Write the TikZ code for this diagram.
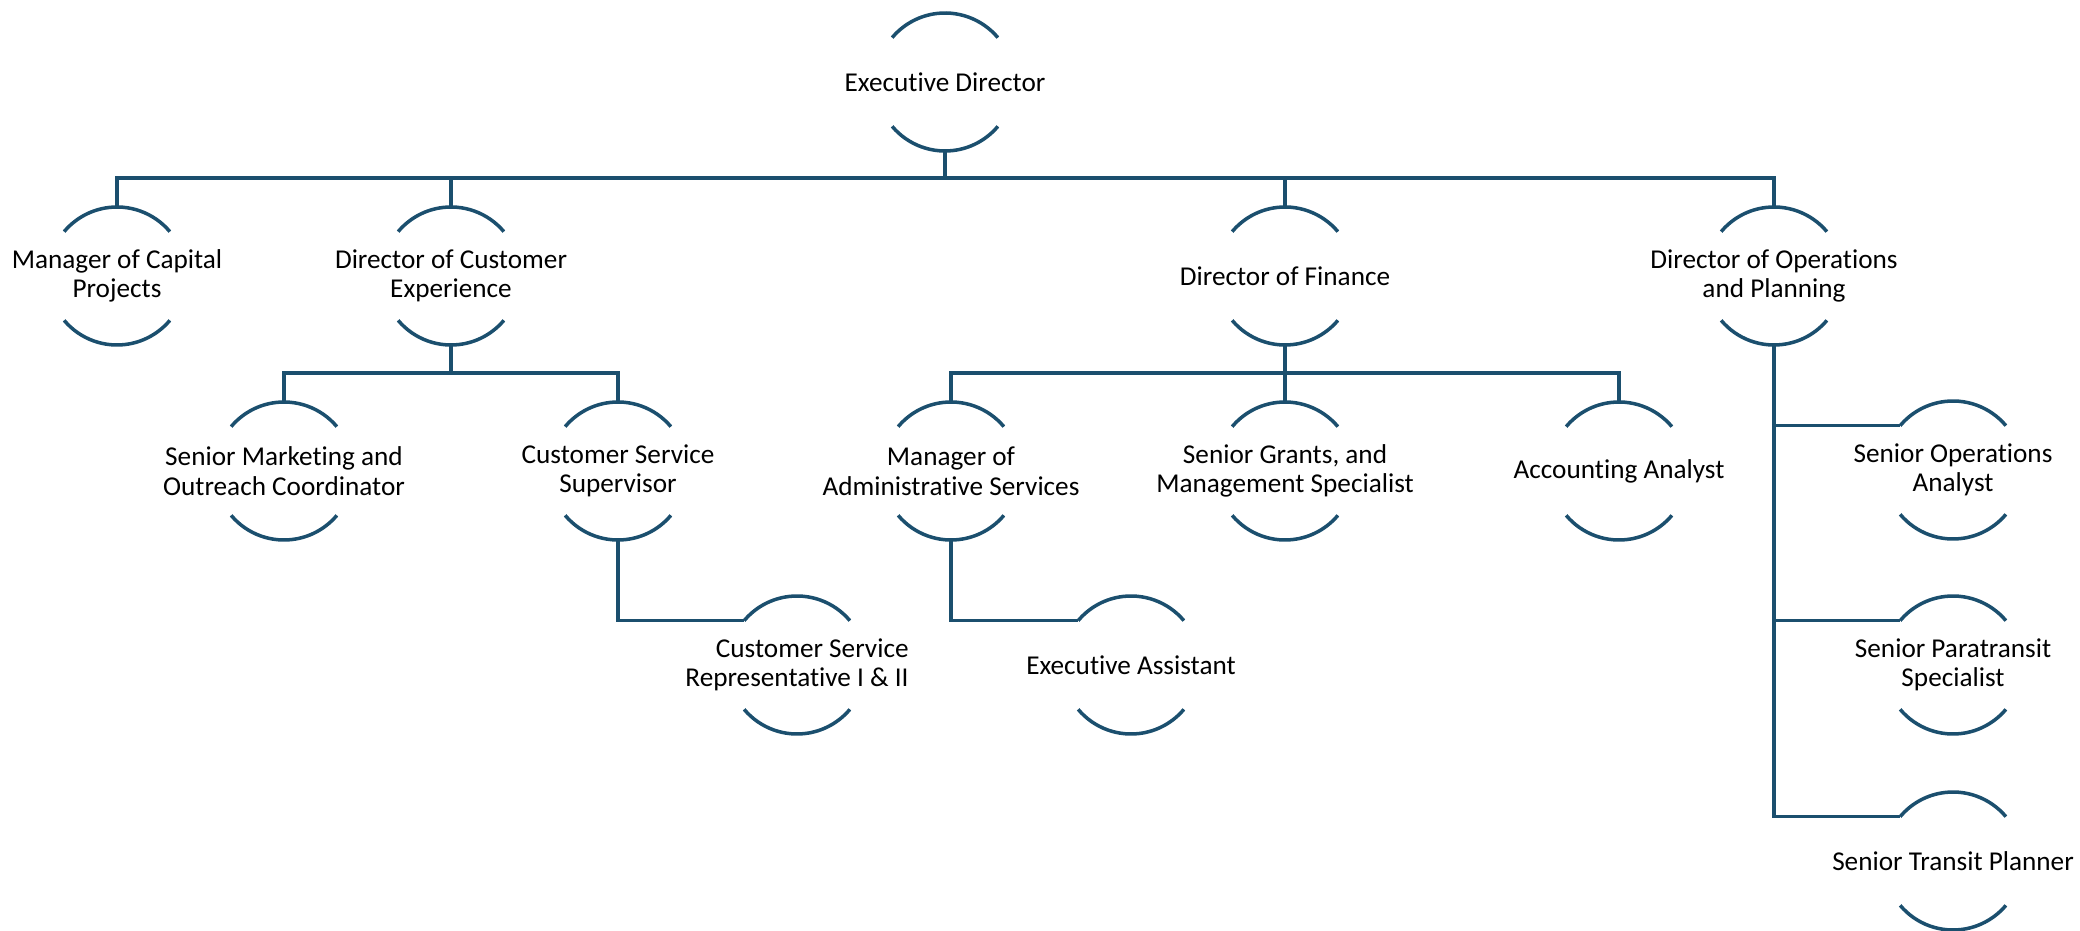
\documentclass[tikz,border=0pt]{standalone}
\usepackage{fontspec}
\newfontfamily\rolefont[Ligatures={NoCommon,NoContextual}]{Carlito}
\usepackage{tikz}
\usetikzlibrary{calc}
\definecolor{chartblue}{RGB}{27,79,110}

\begin{document}
\begin{tikzpicture}[x=0.01cm, y=0.01cm,
    role/.style={align=center, inner sep=0pt, font={\rolefont\fontsize{7.74}{8.4}\selectfont}},
    rim/.style={chartblue, line width=1pt},
    link/.style={chartblue, line width=1pt}]
    \useasboundingbox (0,0) rectangle (2080,-931);
    % level 0
    \node[role] (exec) at (945,-82) {Executive Director};
    % level 1
    \node[role] (capital) at (117,-276) {Manager of Capital\\Projects};
    \node[role] (custexp) at (451,-276) {Director of Customer\\Experience};
    \node[role] (finance) at (1285,-276) {Director of Finance};
    \node[role] (ops) at (1774,-276) {Director of Operations\\and Planning};
    % level 2
    \node[role] (marketing) at (284,-471) {Senior Marketing and\\Outreach Coordinator};
    \node[role] (csup) at (618,-471) {Customer Service\\Supervisor};
    \node[role] (admin) at (951,-471) {Manager of\\Administrative Services};
    \node[role] (grants) at (1285,-471) {Senior Grants, and\\Management Specialist};
    \node[role] (accounting) at (1619,-471) {Accounting Analyst};
    \node[role, align=right] (csrep) at (797,-665) {Customer Service\\Representative I \& II};
    \node[role] (assistant) at (1131,-665) {Executive Assistant};
    % operations staff
    \node[role] (opsanalyst) at (1953,-470) {Senior Operations\\Analyst};
    \node[role] (paratransit) at (1953,-665) {Senior Paratransit\\Specialist};
    \node[role] (planner) at (1953,-861) {Senior Transit Planner};

    % arcs round each role
    \foreach \n in {exec,capital,custexp,finance,ops,marketing,csup,admin,grants,
                    accounting,csrep,assistant,opsanalyst,paratransit,planner}
        \draw[rim] ($(\n.center)+(40:69)$) arc[start angle=40, end angle=140, radius=69]
                   ($(\n.center)+(220:69)$) arc[start angle=220, end angle=320, radius=69];

    % connectors
    \draw[link] ($(exec.center)+(0,-69)$) -- ++(0,-27) coordinate (bus0);
    \foreach \n in {capital,custexp,finance,ops}
        \draw[link] (bus0) -| ($(\n.center)+(0,69)$);
    \draw[link] ($(custexp.center)+(0,-69)$) -- ++(0,-28) coordinate (busA);
    \foreach \n in {marketing,csup}
        \draw[link] (busA) -| ($(\n.center)+(0,69)$);
    \draw[link] ($(finance.center)+(0,-69)$) -- ++(0,-28) coordinate (busB);
    \foreach \n in {admin,grants,accounting}
        \draw[link] (busB) -| ($(\n.center)+(0,69)$);
    \draw[link] ($(csup.center)+(0,-69)$) |- ($(csrep.center)+(140:69)$);
    \draw[link] ($(admin.center)+(0,-69)$) |- ($(assistant.center)+(140:69)$);
    \foreach \n in {opsanalyst,paratransit,planner}
        \draw[link] ($(ops.center)+(0,-69)$) |- ($(\n.center)+(140:69)$);
\end{tikzpicture}
\end{document}
